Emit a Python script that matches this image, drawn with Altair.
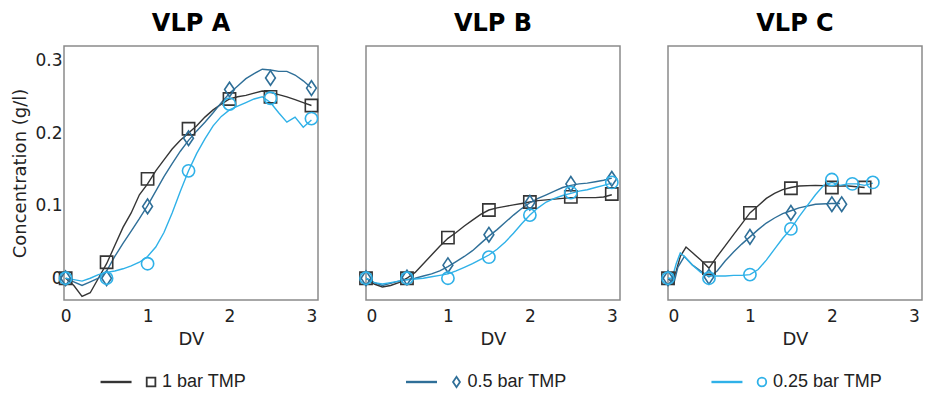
import altair as alt
import pandas as pd

SERIES = ["1 bar TMP", "0.5 bar TMP", "0.25 bar TMP"]
COLORS = ["#353535", "#2f6f98", "#2fb1e8"]
SHAPES = ["M-1,-1L1,-1L1,1L-1,1Z", "M-0.8,0L0,-1.2L0.8,0L0,1.2Z", "circle"]
PANELS = ["VLP A", "VLP B", "VLP C"]
Y_TICKS = [0, 0.1, 0.2, 0.3]
X_TICKS = [0, 1, 2, 3]

# ---------------- VLP A ----------------
A_DV = [0.0, 0.1, 0.2, 0.3, 0.4, 0.5, 0.6, 0.7, 0.8, 0.9, 1.0, 1.1, 1.2, 1.3, 1.4, 1.5,
        1.6, 1.7, 1.8, 1.9, 2.0, 2.1, 2.2, 2.3, 2.4, 2.5, 2.6, 2.7, 2.8, 2.9, 3.0]
A_1BAR = [0, -0.01, -0.025, -0.02, 0.0, 0.02, 0.045, 0.07, 0.09, 0.115, 0.13, 0.148, 0.163,
          0.178, 0.19, 0.2, 0.21, 0.222, 0.232, 0.24, 0.247, 0.25, 0.252, 0.255, 0.258, 0.256,
          0.253, 0.25, 0.246, 0.242, 0.238]
A_05BAR = [0, -0.005, -0.01, -0.005, 0.0, 0.01, 0.03, 0.048, 0.065, 0.082, 0.1, 0.12, 0.14,
           0.158, 0.175, 0.19, 0.203, 0.215, 0.228, 0.242, 0.255, 0.265, 0.275, 0.282, 0.288,
           0.287, 0.285, 0.285, 0.28, 0.272, 0.262]
A_025BAR = [0, -0.002, -0.004, 0.0, 0.005, 0.008, 0.01, 0.013, 0.017, 0.022, 0.03, 0.043, 0.063,
            0.09, 0.12, 0.148, 0.172, 0.192, 0.21, 0.223, 0.232, 0.237, 0.242, 0.247, 0.25,
            0.242, 0.228, 0.215, 0.222, 0.208, 0.218]
A_MK_DV = [0, 0.5, 1, 1.5, 2, 2.5, 3]
A_MK_1BAR = [0, 0.022, 0.137, 0.206, 0.247, 0.25, 0.238]
A_MK_05BAR = [0, 0.0, 0.099, 0.193, 0.26, 0.276, 0.262]
A_MK_025BAR = [0, 0.0, 0.02, 0.148, 0.24, 0.248, 0.22]

# ---------------- VLP B ----------------
B_DV = A_DV
B_1BAR = [0, -0.008, -0.012, -0.01, -0.006, 0.0, 0.008, 0.02, 0.032, 0.044, 0.055, 0.063, 0.072,
          0.08, 0.088, 0.094, 0.097, 0.099, 0.101, 0.103, 0.105, 0.107, 0.108, 0.109, 0.11,
          0.111, 0.111, 0.111, 0.111, 0.112, 0.115]
B_05BAR = [0, -0.006, -0.01, -0.007, -0.004, -0.002, 0.0, 0.003, 0.006, 0.01, 0.016, 0.023, 0.03,
           0.038, 0.048, 0.058, 0.067, 0.077, 0.087, 0.096, 0.104, 0.11, 0.115, 0.12, 0.125,
           0.128, 0.13, 0.131, 0.133, 0.135, 0.138]
B_025BAR = [0, -0.006, -0.008, -0.006, -0.004, -0.002, -0.001, 0.0, 0.002, 0.004, 0.006, 0.01,
            0.015, 0.02, 0.026, 0.032, 0.04, 0.05, 0.062, 0.075, 0.087, 0.097, 0.105, 0.11,
            0.114, 0.117, 0.12, 0.122, 0.125, 0.128, 0.131]
B_MK_DV = [0, 0.5, 1, 1.5, 2, 2.5, 3]
B_MK_1BAR = [0, 0.0, 0.056, 0.094, 0.105, 0.112, 0.116]
B_MK_05BAR = [0, 0.001, 0.018, 0.06, 0.104, 0.13, 0.137]
B_MK_025BAR = [0, 0.0, 0.0, 0.029, 0.087, 0.118, 0.132]

# ---------------- VLP C ----------------
C_DV_1BAR = [0, 0.05, 0.1, 0.15, 0.22, 0.3, 0.4, 0.5, 0.6, 0.7, 0.8, 0.9, 1.0, 1.1, 1.2, 1.3,
             1.4, 1.5, 1.6, 1.8, 2.0, 2.2, 2.4]
C_1BAR = [0, -0.005, 0.01, 0.03, 0.043, 0.035, 0.025, 0.014, 0.03, 0.045, 0.06, 0.075, 0.09,
          0.1, 0.11, 0.117, 0.122, 0.125, 0.127, 0.128, 0.127, 0.127, 0.125]
C_DV_05BAR = [0, 0.07, 0.12, 0.2, 0.3, 0.4, 0.5, 0.6, 0.7, 0.8, 0.9, 1.0, 1.1, 1.2, 1.3, 1.4,
              1.5, 1.6, 1.8, 2.0, 2.1]
C_05BAR = [0, -0.008, 0.015, 0.03, 0.018, 0.01, 0.002, 0.01, 0.024, 0.036, 0.047, 0.057, 0.067,
           0.076, 0.083, 0.089, 0.093, 0.097, 0.102, 0.103, 0.103]
C_DV_025BAR = [0, 0.05, 0.1, 0.15, 0.2, 0.3, 0.4, 0.5, 0.6, 0.7, 0.8, 0.9, 1.0, 1.1, 1.2, 1.3,
               1.4, 1.5, 1.6, 1.7, 1.8, 1.9, 2.0, 2.1, 2.2, 2.3, 2.4, 2.5]
C_025BAR = [0, 0.0, 0.02, 0.035, 0.03, 0.018, 0.008, 0.003, 0.003, 0.003, 0.004, 0.004, 0.005,
            0.012, 0.025, 0.04, 0.055, 0.068, 0.085, 0.1, 0.115, 0.128, 0.132, 0.128, 0.13,
            0.13, 0.128, 0.131]
C_MK_DV_1BAR = [0, 0.5, 1, 1.5, 2, 2.4]
C_MK_1BAR = [0, 0.014, 0.09, 0.124, 0.125, 0.125]
C_MK_DV_05BAR = [0, 0.5, 1, 1.5, 2, 2.12]
C_MK_05BAR = [0, 0.002, 0.057, 0.09, 0.102, 0.102]
C_MK_DV_025BAR = [0, 0.5, 1, 1.5, 2, 2.25, 2.5]
C_MK_025BAR = [0, 0.0, 0.005, 0.068, 0.136, 0.13, 0.132]


def frame(pairs):
    rows = []
    for name, dvs, vals in pairs:
        for i, (d, v) in enumerate(zip(dvs, vals)):
            rows.append({"series": name, "dv": d, "conc": v, "idx": i})
    return pd.DataFrame(rows)


PANEL_LINES = [
    frame([(SERIES[0], A_DV, A_1BAR), (SERIES[1], A_DV, A_05BAR), (SERIES[2], A_DV, A_025BAR)]),
    frame([(SERIES[0], B_DV, B_1BAR), (SERIES[1], B_DV, B_05BAR), (SERIES[2], B_DV, B_025BAR)]),
    frame([(SERIES[0], C_DV_1BAR, C_1BAR), (SERIES[1], C_DV_05BAR, C_05BAR),
           (SERIES[2], C_DV_025BAR, C_025BAR)]),
]
PANEL_MARKS = [
    frame([(SERIES[0], A_MK_DV, A_MK_1BAR), (SERIES[1], A_MK_DV, A_MK_05BAR),
           (SERIES[2], A_MK_DV, A_MK_025BAR)]),
    frame([(SERIES[0], B_MK_DV, B_MK_1BAR), (SERIES[1], B_MK_DV, B_MK_05BAR),
           (SERIES[2], B_MK_DV, B_MK_025BAR)]),
    frame([(SERIES[0], C_MK_DV_1BAR, C_MK_1BAR), (SERIES[1], C_MK_DV_05BAR, C_MK_05BAR),
           (SERIES[2], C_MK_DV_025BAR, C_MK_025BAR)]),
]
X_DOMAINS = [[-0.02, 3.08], [0, 3.1], [0, 3.1]]

color = alt.Color("series:N", scale=alt.Scale(domain=SERIES, range=COLORS), legend=None)
shape = alt.Shape("series:N", scale=alt.Scale(domain=SERIES, range=SHAPES), legend=None)


def panel(k):
    first = k == 0
    x = alt.X("dv:Q", scale=alt.Scale(domain=X_DOMAINS[k], nice=False, zero=False),
              axis=alt.Axis(values=X_TICKS, format="d", title="DV", ticks=False, domain=False,
                            grid=False, labelPadding=8, titlePadding=6))
    yscale = alt.Scale(domain=[-0.03, 0.32], nice=False, zero=False)
    if first:
        y = alt.Y("conc:Q", scale=yscale,
                  axis=alt.Axis(values=Y_TICKS, format=".1~f", ticks=False, domain=False,
                                grid=False, labelPadding=2, titlePadding=5,
                                title="Concentration (g/l)"))
    else:
        y = alt.Y("conc:Q", scale=yscale, axis=None)
    lines = alt.Chart(PANEL_LINES[k]).mark_line(strokeWidth=1.4, clip=True).encode(
        x=x, y=y, color=color, detail="series:N", order="idx:Q")
    pts = alt.Chart(PANEL_MARKS[k]).mark_point(filled=False, strokeWidth=1.6, size=150,
                                                opacity=1).encode(
        x=x, y=y, color=color, shape=shape)
    return alt.layer(lines, pts).properties(
        width=254, height=254,
        title=alt.TitleParams(PANELS[k]),
        view=alt.ViewBackground(stroke="#8a8a8a", strokeWidth=1.5),
    )


row = alt.hconcat(panel(0), panel(1), panel(2), spacing=48, bounds="flush")

leg_df = pd.DataFrame({"series": SERIES})
lx = alt.X("series:N", sort=SERIES, scale=alt.Scale(type="point", padding=0.285), axis=None)
leg_line = alt.Chart(leg_df).mark_tick(orient="horizontal", size=31, thickness=2.4,
                                       xOffset=-35, opacity=1).encode(x=lx, color=color)
leg_mark = alt.Chart(leg_df).mark_point(filled=False, size=75, strokeWidth=1.8,
                                        opacity=1).encode(x=lx, color=color, shape=shape)
leg_text = alt.Chart(leg_df).mark_text(align="left", dx=11, fontSize=18, font="Liberation Sans",
                                       color="#222222").encode(x=lx, text="series:N")
legend = alt.layer(leg_line, leg_mark, leg_text).properties(
    width=785, height=14, view=alt.ViewBackground(strokeWidth=0))

chart = alt.vconcat(row, legend, spacing=24).properties(
    padding={"left": 3, "top": 3, "right": 0, "bottom": 0}
).configure_view(
    strokeWidth=0
).configure_axis(
    labelFont="DejaVu Sans", titleFont="DejaVu Sans", labelFontSize=17, titleFontSize=18,
    titleFontWeight="normal", labelColor="#222222", titleColor="#222222"
).configure_title(
    font="DejaVu Sans", fontSize=24, fontWeight="bold", color="#000000", anchor="middle",
    offset=10
)

chart.save("out.html", embed_options={"renderer": "svg", "actions": False})
